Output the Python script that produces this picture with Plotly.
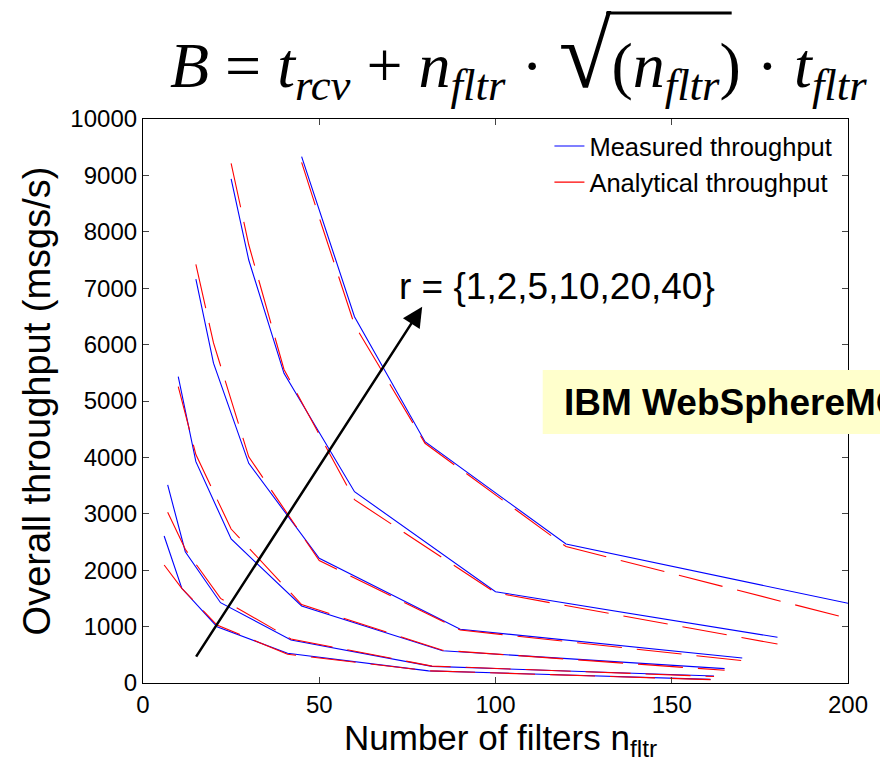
import plotly.graph_objects as go

# ---- data ----
r_values = [1, 2, 5, 10, 20, 40]

filters_r1 = [6, 11, 21, 41, 81, 161]
measured_r1 = [2606, 1679, 998, 527, 215, 65]
analytic_r1 = [2092, 1679, 1028, 510, 215, 60]

filters_r2 = [7, 12, 22, 42, 82, 162]
measured_r2 = [3511, 2328, 1424, 762, 295, 124]
analytic_r2 = [3026, 2370, 1500, 780, 300, 115]

filters_r5 = [10, 15, 25, 45, 85, 165]
measured_r5 = [5431, 3924, 2553, 1365, 573, 254]
analytic_r5 = [5254, 4050, 2730, 1390, 580, 225]

filters_r10 = [15, 20, 30, 50, 90, 170]
measured_r10 = [7160, 5670, 3895, 2211, 952, 443]
analytic_r10 = [7424, 6030, 4010, 2170, 940, 396]

filters_r20 = [25, 30, 40, 60, 100, 180]
measured_r20 = [8940, 7500, 5491, 3392, 1619, 810]
analytic_r20 = [9215, 7770, 5560, 3250, 1600, 691]

filters_r40 = [45, 50, 60, 80, 120, 200]
measured_r40 = [9332, 8400, 6495, 4278, 2465, 1413]
analytic_r40 = [9232, 8250, 6350, 4250, 2420, 1147]

x_ticks = [0, 50, 100, 150, 200]
y_ticks = [0, 1000, 2000, 3000, 4000, 5000, 6000, 7000, 8000, 9000, 10000]
y_tick_labels = [str(v) for v in y_ticks]

series = [
    (filters_r1, measured_r1, analytic_r1),
    (filters_r2, measured_r2, analytic_r2),
    (filters_r5, measured_r5, analytic_r5),
    (filters_r10, measured_r10, analytic_r10),
    (filters_r20, measured_r20, analytic_r20),
    (filters_r40, measured_r40, analytic_r40),
]

FONT = "Liberation Sans, Arial, sans-serif"
SERIF = "Liberation Serif, Times New Roman, serif"

fig = go.Figure()
for i, (xs, meas, anal) in enumerate(series):
    fig.add_trace(go.Scatter(
        x=xs, y=meas, mode="lines", name="Measured throughput",
        legendgroup="meas", showlegend=(i == 0),
        line=dict(color="#0000FF", width=1.1)))
for i, (xs, meas, anal) in enumerate(series):
    fig.add_trace(go.Scatter(
        x=xs, y=anal, mode="lines", name="Analytical throughput",
        legendgroup="anal", showlegend=(i == 0),
        line=dict(color="#FF0000", width=1.1, dash="45px,15px")))

# arrow through the family of curves
fig.add_annotation(x=79.2, y=6670, ax=14.8, ay=440, xref="x", yref="y",
                   axref="x", ayref="y", text="", showarrow=True,
                   arrowhead=2, arrowsize=1.6, arrowwidth=2.5, arrowcolor="black")
fig.add_annotation(x=72.0, y=7030, xref="x", yref="y", xanchor="left",
                   yanchor="middle", showarrow=False,
                   text="r = {1,2,5,10,20,40}",
                   font=dict(family=FONT, size=37, color="black"))

# formula title
fig.add_annotation(
    x=0.532, y=1.113, xref="paper", yref="paper", xanchor="center", yanchor="middle",
    showarrow=False,
    text=("<i>B</i> = <i>t</i><sub><i>rcv</i></sub> + <i>n</i><sub><i>fltr</i></sub> \u00b7 "
          "<span style=\"font-size:96px\">\u221a</span>(<i>n</i><sub><i>fltr</i></sub>)"
          " \u00b7 <i>t</i><sub><i>fltr</i></sub>"),
    font=dict(family=SERIF, size=64, color="black"))
# overline of the square-root sign
fig.add_shape(type="line", xref="paper", yref="paper",
              x0=0.657, x1=0.835, y0=1.188, y1=1.188,
              line=dict(color="black", width=3))

# IBM box (clipped at the right edge as in the reference)
fig.add_shape(type="rect", xref="paper", yref="paper",
              x0=0.567, x1=1.06, y0=0.4415, y1=0.555,
              fillcolor="#FFFFCC", line=dict(width=0), layer="above")
fig.add_annotation(x=0.594, y=0.498, xref="paper", yref="paper",
                   xanchor="left", yanchor="middle", showarrow=False,
                   text="<b>IBM WebSphereMQ</b>",
                   font=dict(family=FONT, size=37, color="black"))

# x-axis title (as annotation so it can sit slightly right of centre, as in the reference)
fig.add_annotation(x=0.507, y=-0.058, xref="paper", yref="paper",
                   xanchor="center", yanchor="top", showarrow=False,
                   text="Number of filters n<sub>fltr</sub>",
                   font=dict(family=FONT, size=35, color="black"))

fig.update_layout(
    width=880, height=757,
    margin=dict(l=143, r=32, t=119, b=74),
    paper_bgcolor="white", plot_bgcolor="white",
    font=dict(family=FONT, size=24, color="black"),
    showlegend=True,
    legend=dict(x=0.985, y=0.993, xanchor="right", yanchor="top",
                bgcolor="rgba(255,255,255,0)", borderwidth=0,
                font=dict(family=FONT, size=25.5), tracegroupgap=0),
)
fig.update_xaxes(range=[0, 200], tickvals=x_ticks, ticks="inside", ticklen=6,
                 showline=True, linecolor="black", linewidth=1.2, mirror="ticks",
                 showgrid=False, zeroline=False,
                 tickfont=dict(family=FONT, size=24))
fig.update_yaxes(range=[0, 10000], tickvals=y_ticks, ticktext=y_tick_labels,
                 ticks="inside", ticklen=6,
                 showline=True, linecolor="black", linewidth=1.2, mirror="ticks",
                 showgrid=False, zeroline=False,
                 tickfont=dict(family=FONT, size=24),
                 title=dict(text="Overall throughput (msgs/s)",
                            font=dict(family=FONT, size=38), standoff=8))

fig.write_html("out.html", config={"displayModeBar": False},
               post_script="document.body.style.margin='0px';")
